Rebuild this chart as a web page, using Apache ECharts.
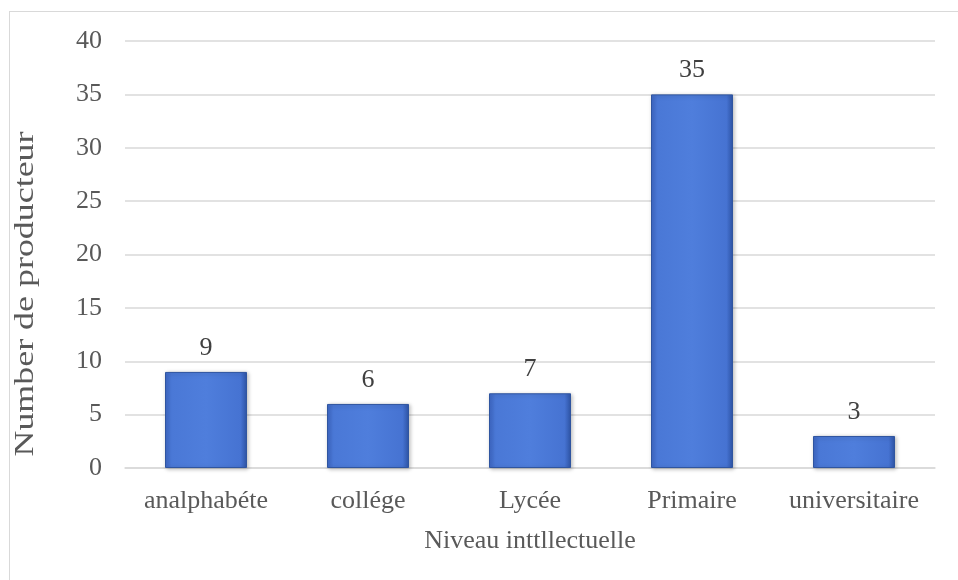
<!DOCTYPE html>
<html><head><meta charset="utf-8">
<script src="https://cdn.jsdelivr.net/npm/echarts@6/dist/echarts.min.js"></script>
<style>html,body{margin:0;padding:0;background:#fff}#frame{position:absolute;left:9px;top:11px;width:960px;height:600px;border:1px solid #d9d9d9;box-sizing:border-box}#c{position:absolute;left:0;top:0;width:958px;height:580px}</style>
</head><body>
<div id="frame"></div>
<div id="c"></div>
<script>
const categories = ['analphabéte', 'collége', 'Lycée', 'Primaire', 'universitaire'];
const values = [9, 6, 7, 35, 3];
const yTicks = { min: 0, max: 40, interval: 5 };
const yTitle = 'Number de producteur';
const xTitle = 'Niveau inttllectuelle';
const fontFam = '"Liberation Serif", "Times New Roman", serif';
const chart = echarts.init(document.getElementById('c'));
chart.setOption({
  animation: false,
  grid: { left: 125, right: 23, top: 41, bottom: 112 },
  graphic: [{
    type: 'text', x: 26, y: 294, rotation: Math.PI / 2, scaleX: 1.33, scaleY: 1,
    style: { text: yTitle, x: 0, y: 0, align: 'center', verticalAlign: 'middle',
      textAlign: 'center', textVerticalAlign: 'middle',
      font: '27px ' + fontFam, fill: '#595959' }
  }],
  xAxis: {
    type: 'category', data: categories,
    name: xTitle, nameLocation: 'middle', nameGap: 60,
    nameTextStyle: { fontFamily: fontFam, fontSize: 26, color: '#595959' },
    axisLine: { lineStyle: { color: '#d9d9d9', width: 1.5 } },
    axisTick: { show: false },
    axisLabel: { interval: 0, fontFamily: fontFam, fontSize: 26, color: '#595959', margin: 20 }
  },
  yAxis: {
    type: 'value', min: yTicks.min, max: yTicks.max, interval: yTicks.interval,
    axisLine: { show: false }, axisTick: { show: false },
    splitLine: { lineStyle: { color: '#d9d9d9', width: 1.5 } },
    axisLabel: { fontFamily: fontFam, fontSize: 26, color: '#595959', margin: 23 }
  },
  series: [{
    type: 'bar', data: values, barWidth: 82,
    itemStyle: {
      color: new echarts.graphic.LinearGradient(0, 0, 1, 0, [
        { offset: 0, color: '#3e68c6' },
        { offset: 0.08, color: '#4a78d6' },
        { offset: 0.5, color: '#4f7edc' },
        { offset: 0.92, color: '#4673d2' },
        { offset: 1, color: '#2f55a8' }
      ]),
      borderColor: '#2f55a0', borderWidth: 1,
      shadowColor: 'rgba(0,0,0,0.25)', shadowBlur: 4, shadowOffsetX: 1, shadowOffsetY: 1
    },
    label: { show: true, position: 'top', distance: 11, fontFamily: fontFam, fontSize: 26, color: '#404040' }
  }]
});
</script>
</body></html>
